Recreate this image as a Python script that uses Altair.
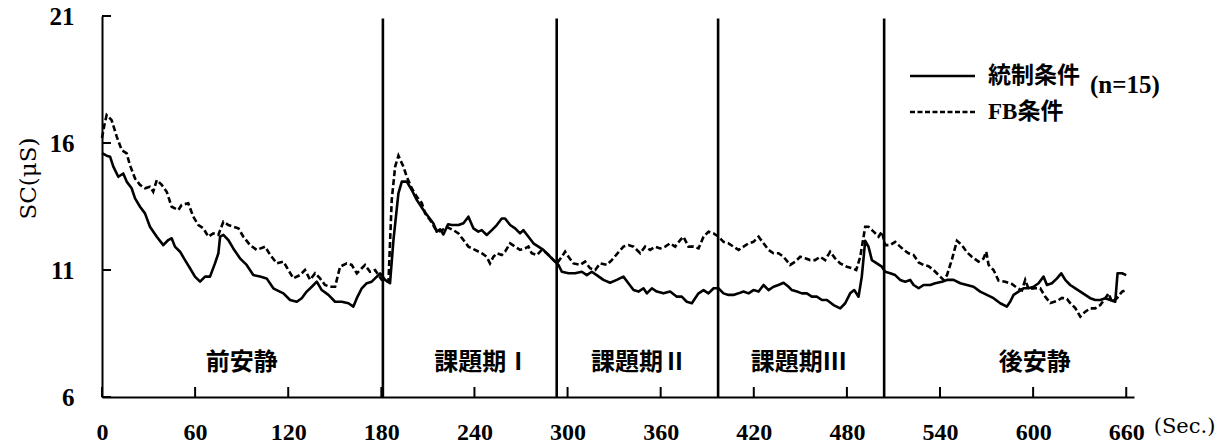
import altair as alt
import pandas as pd

# Skin conductance time courses (seconds, µS)
seconds_ctrl = [0, 3, 5.2, 7.3, 10.5, 13.7, 15.9, 19.1, 21.3, 24.5, 27.7, 30.9, 35.3, 39.5, 42.7,
                44.9, 47, 50.3, 53.5, 56.7, 59.9, 63.2, 66.4, 69.6, 72.8, 75, 76.1, 78.2, 81.4, 84.6,
                88.9, 93.2, 97.5, 101.8, 106.1, 110.4, 112.6, 116.9, 121.2, 125.5, 128.7, 131.9, 135.2,
                138.4, 141.6, 145.9, 150.2, 154.5, 158.8, 162, 164.2, 167.4, 170.6, 173.8, 177.1, 179.2,
                182.4, 185.6, 187.8, 191, 193.2, 196.4, 199.6, 202.8, 207.1, 210.3, 213.5, 215.7, 217.9,
                220, 223, 225.4, 229.7, 232.9, 236.1, 239.3, 242.5, 244.7, 247.9, 251.2, 254.4, 257.6,
                259.7, 263, 266.2, 269.4, 271.5, 274.8, 278, 281.2, 284.4, 287.7, 290.9, 294.1, 296.3,
                300.6, 304.9, 309.2, 312.4, 315.6, 318.8, 323.1, 327.4, 331.7, 336, 339.2, 342.5, 345.7,
                348.9, 351.1, 354.3, 357.5, 361.8, 366.1, 370.4, 373.6, 376.8, 380.1, 382.2, 384.4,
                387.6, 390.8, 394.1, 397.3, 400.5, 403.7, 406.9, 410.2, 413.4, 416.6, 419.8, 423.1,
                426.3, 429.5, 432.7, 435.9, 439.2, 442.4, 444.5, 447.8, 451, 454.2, 457.4, 460.6, 463.9,
                467.1, 471.4, 475.7, 478.9, 482.1, 484.7, 487.5, 489.6, 491.8, 493.9, 496.1, 499.3,
                502.5, 504.7, 507.9, 511.1, 514.3, 517.6, 520.8, 523, 526.2, 529.4, 533.7, 536.9, 541.2,
                544.5, 548.7, 553.1, 557.3, 561.6, 565.9, 570.2, 574.5, 578.8, 583.1, 585.2, 587.4,
                590.6, 593.8, 597.1, 600.3, 603.5, 606.7, 608.9, 612.1, 615.4, 618.1, 620.7, 623.9,
                627.2, 630.4, 633.6, 636.8, 640, 643.3, 646.5, 649.7, 652.9, 654.4, 657.3, 660]
sc_ctrl = [15.6, 15.5, 15.46, 15.07, 14.67, 14.8, 14.48, 14.22, 13.82, 13.49, 13.23, 12.7, 12.31, 11.98,
           12.18, 12.25, 11.92, 11.72, 11.39, 11.07, 10.74, 10.54, 10.74, 10.74, 11.26, 11.66, 12.31,
           12.38, 12.18, 11.85, 11.46, 11.2, 10.8, 10.74, 10.67, 10.28, 10.21, 10.08, 9.82, 9.75, 9.89,
           10.15, 10.34, 10.54, 10.21, 10.02, 9.75, 9.75, 9.69, 9.56, 9.89, 10.28, 10.48, 10.54, 10.74,
           10.87, 10.61, 10.48, 12.18, 14.02, 14.48, 14.48, 14.15, 13.76, 13.36, 13.1, 12.84, 12.51,
           12.6, 12.4, 12.8, 12.77, 12.77, 12.84, 13.1, 12.64, 12.51, 12.57, 12.38, 12.57, 12.77, 13.03,
           13.03, 12.77, 12.64, 12.44, 12.57, 12.31, 12.05, 11.92, 11.79, 11.59, 11.39, 11.2, 10.93,
           10.87, 10.87, 10.93, 10.8, 10.93, 10.8, 10.61, 10.5, 10.61, 10.74, 10.48, 10.21, 10.15,
           10.28, 10.08, 10.28, 10.15, 10.08, 10.15, 9.95, 9.95, 9.75, 9.69, 9.89, 10.08,
           10.21, 10.08, 10.28, 10.28, 10.08, 10.02, 10.02, 10.08, 10.15, 10.08, 10.21, 10.15,
           10.41, 10.21, 10.34, 10.41, 10.5, 10.34, 10.21, 10.15, 10.08, 10.08, 9.95, 9.95, 9.82,
           9.82, 9.62, 9.49, 9.69, 10.08, 10.21, 9.95, 10.74, 12.15, 11.92, 11.39, 11.26,
           11.13, 10.93, 10.87, 10.8, 10.61, 10.54, 10.61, 10.41, 10.28, 10.41, 10.41, 10.48, 10.54,
           10.61, 10.61, 10.48, 10.41, 10.34, 10.15, 10.02, 9.89, 9.69, 9.56, 9.75, 10.02,
           10.15, 10.28, 10.28, 10.34, 10.48, 10.74, 10.41, 10.48, 10.67, 10.87, 10.61, 10.41,
           10.28, 10.15, 10.02, 9.89, 9.82, 9.82, 9.89, 9.82, 9.75, 10.87, 10.87, 10.8]

seconds_fb = [0, 1.5, 3, 6.2, 9.5, 12.7, 15.9, 18, 21.3, 24.5, 27.7, 30.9, 33, 35.3, 38.5, 41.7, 44.9,
              49.2, 51.3, 55.6, 58.8, 62.1, 65.3, 68.5, 71.7, 75, 78.2, 81.4, 84.6, 87.9, 91.1, 95.4,
              99.7, 105.1, 108.3, 112.6, 116.9, 120.1, 123.3, 127.6, 130.8, 134.1, 137.3, 140.5, 143.7,
              147, 150.2, 153.4, 157.7, 160.9, 164.2, 167.4, 169.5, 172.7, 176, 178.1, 180.3, 184.6,
              186.7, 188.9, 191, 194.2, 196.4, 199.6, 202.8, 206.1, 208.2, 211.4, 214.6, 216.8, 220,
              222, 226.4, 229.7, 232.9, 236.1, 240.4, 244.7, 247.9, 250, 252.2, 254.4, 257.6, 259.7,
              263, 266.2, 269.4, 272.6, 274.8, 276.9, 280.2, 283.4, 286.6, 289.9, 293.1, 296.3, 298.4,
              300.6, 303.8, 308.1, 311.3, 314.5, 317.8, 321, 325.3, 328.5, 331.7, 336, 339.2, 342.5,
              346.8, 350, 353.2, 356.4, 359.7, 362.9, 366.1, 369.3, 372.6, 374.7, 377.9, 381.2, 384.4,
              387.6, 390.8, 394.1, 397.3, 400.5, 403.7, 406.9, 410.2, 413.4, 416.6, 419.8, 423.1,
              426.3, 429.5, 432.7, 435.9, 439.2, 443.4, 446.7, 449.9, 453.1, 456.3, 459.5, 462.8, 466,
              469.2, 472.4, 475.7, 480, 483.2, 486, 488.6, 491.8, 493.9, 497.2, 500.4, 502.5, 504.7,
              507.9, 511.1, 513.3, 516.5, 519.7, 523, 526.2, 529.4, 532.6, 535.8, 539.1, 542.3, 544.5,
              547.7, 550.9, 554.1, 557.3, 560.5, 564.8, 568, 569.8, 571.3, 574.5, 577.7, 582, 586.3,
              589.6, 592.8, 594.9, 597.1, 601.4, 604.6, 607.8, 611.1, 615.4, 618.6, 621.8, 624, 627.2,
              630.4, 633.6, 636.8, 640, 643.3, 646.5, 648.6, 650.8, 654, 657.3, 660]
sc_fb = [16.2, 16.7, 17.1, 16.9, 16.25, 15.72, 15.59, 15.13, 14.6, 14.35, 14.22, 14.28, 14.08, 14.54,
         14.35, 14.08, 13.49, 13.36, 13.56, 13.63, 13.1, 12.77, 12.64, 12.31, 12.44, 12.38, 12.9, 12.77,
         12.7, 12.64, 12.31, 11.98, 11.79, 11.92, 11.6, 11.26, 11.33, 11.0, 10.67, 10.8, 11.0, 10.61,
         10.87, 10.67, 10.41, 10.34, 10.34, 11.13, 11.26, 11.2, 10.87, 11.07, 11.2, 10.93, 11.0, 10.8,
         10.61, 10.54, 13.76, 15.07, 15.5, 15.07, 14.67, 14.22, 13.89, 13.63, 13.23, 12.97, 12.64,
         12.51, 12.6, 12.7, 12.57, 12.44, 12.18, 11.92, 11.79, 11.66, 11.52, 11.26, 11.52, 11.66, 11.59,
         11.72, 12.05, 11.92, 11.79, 11.85, 11.92, 11.66, 11.59, 11.79, 11.66, 11.46, 11.26, 11.52,
         11.72, 11.52, 11.26, 11.2, 11.33, 11.07, 11.0, 11.26, 11.2, 11.39, 11.62, 11.92, 11.98, 11.92,
         11.66, 11.92, 11.79, 11.92, 11.85, 11.92, 12.05, 11.92, 12.18, 12.31, 11.92, 11.92, 11.85,
         12.31, 12.51, 12.44, 12.31, 12.11, 12.05, 11.92, 11.79, 11.92, 12.05, 12.11, 12.31,
         12.05, 11.79, 11.66, 11.66, 11.52, 11.2, 11.33, 11.52, 11.46, 11.39, 11.39, 11.52, 11.39,
         11.72, 11.46, 11.26, 11.13, 11.07, 11.0, 11.52, 12.7, 12.7, 12.51, 12.31, 12.51, 11.98,
         11.98, 12.11, 11.98, 11.8, 11.66, 11.59, 11.3, 11.2, 11.15, 11.0, 10.8, 10.61, 10.8,
         11.42, 12.15, 11.98, 11.7, 11.52, 11.33, 11.45, 11.72, 11.2, 11.0, 10.58, 10.54, 10.45,
         10.3, 10.2, 10.61, 10.25, 10.28, 10.28, 9.95, 9.7, 9.78, 9.9, 9.86, 9.69, 9.5,
         9.16, 9.36, 9.49, 9.49, 9.62, 9.89, 10.08, 9.75, 9.89, 10.15, 10.21]

x_ticks = [0, 60, 120, 180, 240, 300, 360, 420, 480, 540, 600, 660]
y_ticks = [6, 11, 16, 21]
phase_bounds = [181, 293, 397, 504]
phase_names = ["前安静", "課題期Ⅰ", "課題期Ⅱ", "課題期Ⅲ", "後安静"]
phase_centers = [90, 245, 346, 449, 601]
legend_names = ["統制条件", "FB条件"]
legend_note = "(n=15)"

W, H = 1032, 381
SERIF = "Liberation Serif"
TITLE_SERIF = "DejaVu Serif"
CJK = "Noto Sans CJK JP"

xs = alt.Scale(domain=[0, 665], nice=False, zero=False)
ys = alt.Scale(domain=[6, 21], nice=False, zero=False)

ctrl_df = pd.DataFrame({"t": seconds_ctrl, "sc": sc_ctrl})
fb_df = pd.DataFrame({"t": seconds_fb, "sc": sc_fb})

x_axis = alt.Axis(values=x_ticks, ticks=False, grid=False, domainColor="black", domainWidth=2,
                  labelFont=SERIF, labelFontWeight="bold", labelFontSize=24, labelColor="black",
                  labelPadding=23, labelFlush=False, labelOverlap=False,
                  title="(Sec.)", titleFont=TITLE_SERIF, titleFontWeight="normal", titleFontSize=21,
                  titleColor="black", titleX=1082, titleY=29, titleAlign="center",
                  titleBaseline="middle", titleAnchor="start")
y_axis = alt.Axis(values=y_ticks, ticks=False, grid=False, domainColor="black", domainWidth=2,
                  labelFont=SERIF, labelFontWeight="bold", labelFontSize=25, labelColor="black",
                  labelPadding=28, labelFlush=False, labelOverlap=False,
                  title="SC(μS)", titleFont=TITLE_SERIF, titleFontWeight="normal", titleFontSize=23,
                  titleColor="black", titleAngle=270, titleX=-74, titleY=162, titleAlign="center",
                  titleBaseline="middle", titleAnchor="start")

# every position encoding shares the same field names, scales and axis settings,
# so the layered axes merge into one pair
def xt(field="t"):
    return alt.X(f"{field}:Q", scale=xs, axis=x_axis, title="(Sec.)")


def ysc(field="sc"):
    return alt.Y(f"{field}:Q", scale=ys, axis=y_axis, title="SC(μS)")


ctrl_line = alt.Chart(ctrl_df).mark_line(color="black", strokeWidth=2.6, strokeJoin="round").encode(
    x=xt(), y=ysc(),
)
fb_line = alt.Chart(fb_df).mark_line(color="black", strokeWidth=2.6, strokeDash=[6, 3]).encode(
    x=xt(), y=ysc(),
)

phase_lines = alt.Chart(pd.DataFrame({"t": phase_bounds, "lo": [6] * 4, "hi": [20.9] * 4})).mark_rule(
    color="black", strokeWidth=2.6
).encode(
    x=xt(),
    y=ysc("lo"),
    y2="hi:Q",
)

x_tick_marks = alt.Chart(pd.DataFrame({"t": x_ticks})).mark_rule(color="black", strokeWidth=2).encode(
    x=xt(),
    y=alt.value(H),
    y2=alt.value(H - 10),
)
y_tick_marks = alt.Chart(pd.DataFrame({"sc": y_ticks})).mark_rule(color="black", strokeWidth=2).encode(
    y=ysc(),
    x=alt.value(0),
    x2=alt.value(9),
)

phase_text = alt.Chart(
    pd.DataFrame({"name": phase_names, "t": phase_centers, "sc": [7.35] * 5})
).mark_text(
    font=CJK, fontSize=24, fontWeight="bold", color="black", align="center", baseline="middle"
).encode(
    x=xt(),
    y=ysc(),
    text="name:N",
)

legend_ctrl_line = alt.Chart(pd.DataFrame({"n": [legend_names[0]]})).mark_rule(
    color="black", strokeWidth=2.4
).encode(x=alt.value(808), x2=alt.value(873), y=alt.value(60))
legend_fb_line = alt.Chart(pd.DataFrame({"n": [legend_names[1]]})).mark_rule(
    color="black", strokeWidth=2.4, strokeDash=[5, 2.5]
).encode(x=alt.value(808), x2=alt.value(873), y=alt.value(96))
legend_ctrl_text = alt.Chart(pd.DataFrame({"n": [legend_names[0]]})).mark_text(
    font=CJK, fontSize=23, fontWeight="bold", color="black", align="left", baseline="middle"
).encode(x=alt.value(886), y=alt.value(60), text="n:N")
legend_fb_text = alt.Chart(pd.DataFrame({"n": [legend_names[1]]})).mark_text(
    font=f'"{SERIF}", "{CJK}"', fontSize=23, fontWeight="bold", color="black", align="left",
    baseline="middle"
).encode(x=alt.value(886), y=alt.value(96), text="n:N")
legend_note_text = alt.Chart(pd.DataFrame({"n": [legend_note]})).mark_text(
    font=SERIF, fontSize=25, fontWeight="bold", color="black", align="left", baseline="middle"
).encode(x=alt.value(988), y=alt.value(69), text="n:N")

chart = alt.layer(
    ctrl_line, fb_line, phase_lines, x_tick_marks, y_tick_marks, phase_text,
    legend_ctrl_line, legend_fb_line, legend_ctrl_text, legend_fb_text, legend_note_text,
).properties(
    width=W, height=H,
    autosize=alt.AutoSizeParams(type="none"),
    padding={"left": 102, "top": 16, "right": 91, "bottom": 47},
    background="white",
).configure_view(stroke=None)

chart.save("out.html", embed_options={"renderer": "svg", "actions": False})
